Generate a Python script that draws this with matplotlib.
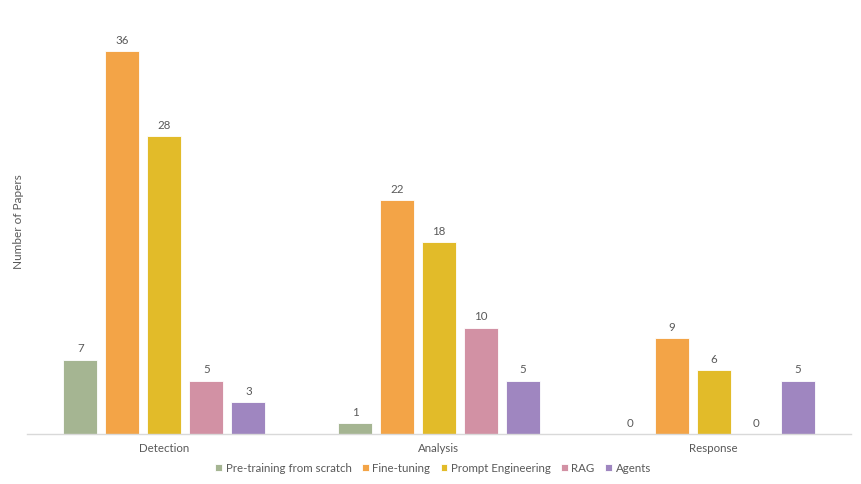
import numpy as np
import matplotlib.pyplot as plt

# -----------------------
# Data
# -----------------------
stages = ['Detection', 'Analysis', 'Response']
methods = ['Pre-training from scratch', 'Fine-tuning', 'Prompt Engineering', 'RAG', 'Agents']
pretrain = [7, 1, 0]
finetune = [36, 22, 9]
prompt = [28, 18, 6]
rag = [5, 10, 0]
agents = [3, 5, 5]

colors = ['#A5B592', '#F3A447', '#E2BB29', '#D291A4', '#9F86C0']
text_col = '#595959'

plt.rcParams['font.family'] = ['Lato', 'DejaVu Sans']

fig = plt.figure(figsize=(8.61, 4.85), dpi=100)
ax = fig.add_axes([27 / 861, 50 / 485, 824 / 861, 425.6 / 485])

x = np.arange(len(stages))
w = 0.124
step = 0.153
for i, (vals, c) in enumerate(zip([pretrain, finetune, prompt, rag, agents], colors)):
    pos = x + (i - 2) * step
    ax.bar(pos, vals, width=w, color=c, label=methods[i], edgecolor='white', linewidth=0.6)
    for p, v in zip(pos, vals):
        ax.text(p, v + 0.6, str(v), ha='center', va='bottom', fontsize=8.3, color=text_col)

ax.set_xlim(-0.5, 2.5)
ax.set_ylim(0, 40)
ax.set_yticks([])
ax.set_xticks(x)
ax.set_xticklabels(stages, fontsize=8.3, color=text_col)
ax.tick_params(axis='x', length=0, pad=6)
for s in ['top', 'right', 'left']:
    ax.spines[s].set_visible(False)
ax.spines['bottom'].set_color('#D9D9D9')
ax.spines['bottom'].set_linewidth(1)

fig.text(19 / 861, 1 - 222 / 485, 'Number of Papers', rotation=90, ha='center', va='center',
         fontsize=8.5, color=text_col)

fig.legend(loc='center', bbox_to_anchor=(433 / 861, 1 - 469 / 485), ncol=5, frameon=False,
           fontsize=8.3, labelcolor=text_col, handlelength=0.6, handleheight=0.6,
           handletextpad=0.3, columnspacing=0.9)

fig.savefig('out.png', dpi=100)
